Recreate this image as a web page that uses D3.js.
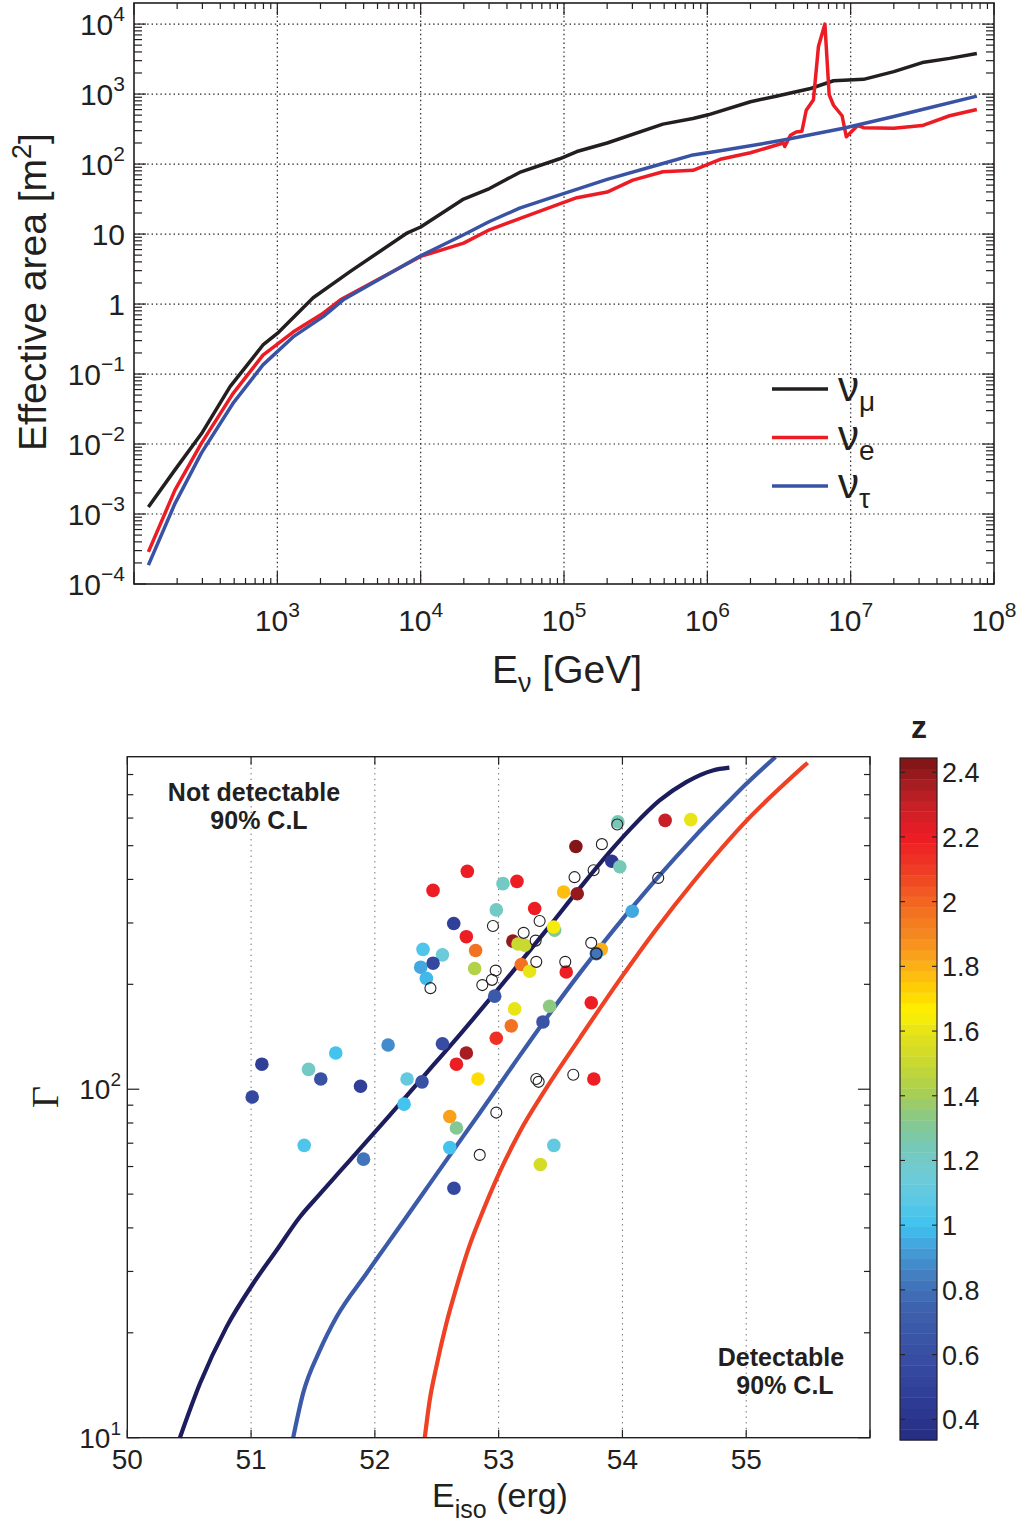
<!DOCTYPE html>
<html><head><meta charset="utf-8">
<script src="https://cdn.jsdelivr.net/npm/d3@7"></script>
<style>
body{margin:0;background:#fff}
svg{display:block}
text{font-family:"Liberation Sans",Arial,Helvetica,sans-serif;fill:#231f20}
</style>
</head><body>
<svg id="c" width="1023" height="1526"></svg>
<script>
// ================= DATA: top panel (effective area) =================
const numuEnergy = [126,193,296,468,794,1000,1778,3214,7943,1e4,1.995e4,3.02e4,4.9e4,9.33e4,1.23e5,2.0e5,4.9e5,7.94e5,1e6,2e6,3.02e6,5.25e6,7.59e6,1.23e7,2e7,3.16e7,4.9e7,7.59e7];
const numuArea   = [1.26e-3,4.27e-3,0.0141,0.066,0.26,0.38,1.23,2.9,10.2,12.6,31.6,44.7,75.9,119,151,200,372,447,501,776,933,1202,1549,1622,2089,2818,3236,3802];

const nueEnergy = [126,193,295,490,794,1288,2089,2754,1e4,1.995e4,3.02e4,4.9e4,9.33e4,1.23e5,2.0e5,3.02e5,4.9e5,7.94e5,1.23e6,2.0e6,3.39e6,3.47e6,3.80e6,4.17e6,4.57e6,4.90e6,5.50e6,5.96e6,6.61e6,7.08e6,7.59e6,8.71e6,9.33e6,1.12e7,1.23e7,2.0e7,3.16e7,4.9e7,7.59e7];
const nueArea   = [2.88e-4,2.19e-3,0.0102,0.0525,0.186,0.398,0.741,1.15,4.79,7.41,11.5,16.6,26.9,33.1,39.8,58.9,77.6,81.3,117,145,200,178,257,288,295,589,832,4786,10000,977,692,490,245,355,331,324,355,490,603];

const nutauEnergy = [126,193,295,490,794,1288,2089,2884,1e4,1.995e4,3.02e4,4.9e4,9.33e4,2.0e5,4.9e5,7.94e5,1.23e6,2.0e6,3.55e6,8.91e6,2.0e7,3.16e7,7.59e7];
const nutauArea   = [1.86e-4,1.41e-3,7.41e-3,0.038,0.135,0.339,0.661,1.15,4.9,9.77,15.1,23.4,36.3,60.3,102,135,155,182,224,324,479,603,933];

const topXTicks = [1e2,1e3,1e4,1e5,1e6,1e7,1e8];
const topXTickExp = ["","3","4","5","6","7","8"];
const topYTicks = [1e-4,1e-3,1e-2,1e-1,1,10,1e2,1e3,1e4];
const topYTickBase = ["10","10","10","10","1","10","10","10","10"];
const topYTickExp  = ["\u22124","\u22123","\u22122","\u22121","","","2","3","4"];
const legendNames = ["\u03bd","\u03bd","\u03bd"];
const legendSubs  = ["\u03bc","e","\u03c4"];

// ================= DATA: bottom panel (detectability) =================
const curve1Eiso  = [50.425,50.587,50.802,51.017,51.206,51.394,51.555,51.716,51.878,52.066,52.255,52.470,52.631,52.954,53.115,53.385,53.654,53.922,54.084,54.300,54.515,54.730,54.864];
const curve1Gamma = [10,14.3,20.8,27.7,34.5,43.0,50.0,58.0,67.3,80.1,95.5,117,136,186,218,286,377,491,568,674,761,822,837];
const curve2Eiso  = [51.34,51.42,51.555,51.690,51.932,52.094,52.255,52.443,52.605,52.847,53.115,53.358,53.654,53.789,54.084,54.300,54.569,54.838,54.999,55.236];
const curve2Gamma = [10,13.4,17.8,22.2,29.6,35.7,43.0,53.5,64.6,85.5,117,155,215,248,334,411,524,658,751,898];
const curve3Eiso  = [52.403,52.443,52.497,52.578,52.659,52.766,52.847,53.008,53.169,53.385,53.654,53.977,54.273,54.569,54.999,55.496];
const curve3Gamma = [10,12.8,16.0,21.3,27.0,35.7,42.4,57.8,75.3,100.7,140,206,288,392,588,865];

const grbEiso  = [52.747,52.470,53.035,52.981,52.637,52.739,52.814,52.389,52.546,52.470,52.370,52.416,52.806,52.968,52.546,52.739,52.659,52.833,52.981,52.107,51.684,51.464,51.087,51.563,51.884,51.009,52.260,52.381,52.236,51.429,51.908,52.605,52.659,52.605,52.639,53.129,53.102,53.963,54.345,54.552,53.624,53.914,53.979,53.148,53.291,53.525,53.635,53.452,53.444,53.115,53.156,53.210,53.829,53.789,53.183,53.250,53.546,53.412,53.748,53.358,54.079,53.769,53.446,53.337];
const grbGamma = [422,372,389,327,299,274,250,252,243,230,224,208,222,185,135,127,118,107,140,134,127,114,118,107,102,95,107,105,90.6,69,63,83.5,77.4,68,52,170,152,585,591,594,497,451,435,395,330,368,364,286,292,266,261,259,252,245,228,218,217,173,177,156,324,107,69,60.8];
const grbZ     = [2.2,2.2,1.2,1.22,0.5,2.2,1.95,1.05,1.15,0.55,0.95,0.97,1.45,0.68,0.58,2.35,2.2,1.7,2.12,0.87,1.02,1.2,0.5,0.62,0.5,0.55,1.12,0.6,1.02,1.05,0.82,1.85,1.32,1.02,0.55,1.62,1.95,1.25,2.28,1.6,2.42,0.42,1.25,2.2,2.2,1.76,2.4,1.3,1.65,2.38,1.5,1.52,1.8,0.8,1.95,1.62,2.2,1.35,2.2,0.65,0.95,2.2,1.1,1.55];
const noZEiso  = [52.954,52.449,52.868,52.946,52.976,52.981,52.847,53.958,53.834,53.767,53.613,53.331,53.202,53.299,53.748,53.789,53.304,53.538,54.289,53.304,53.323,53.603];
const noZGamma = [294,195,199,206,219,85.7,64.8,575,505,425,406,304,281,267,263,245,232,232,404,107,105,110];

const botXTicks = [50,51,52,53,54,55,56];
const botXTickLabels = ["50","51","52","53","54","55",""];
const cbTicks = [0.4,0.6,0.8,1,1.2,1.4,1.6,1.8,2,2.2,2.4];
const cbTickLabels = ["0.4","0.6","0.8","1","1.2","1.4","1.6","1.8","2","2.2","2.4"];
const zRange = [0.336, 2.444];

// colormap stops (style)
const cmapZ = [0.34,0.45,0.55,0.65,0.75,0.85,0.93,1.00,1.08,1.15,1.23,1.32,1.40,1.50,1.59,1.66,1.72,1.78,1.88,1.99,2.10,2.20,2.28,2.36,2.44];
const cmapC = ["#262d83","#2e3b94","#3548a0","#3a55a6","#3d63ae","#4380c2","#44a0da","#3ec3f0","#5cc8e4","#6dcbd8","#75c9bd","#86c88f","#a5cd58","#c8d930","#e4e11b","#fff200","#ffd400","#fdb913","#f68e1f","#f26a22","#ef3b24","#ed1c24","#cf2027","#a81e22","#7f1416"];

// ================= DRAW =================
const svg = d3.select("#c");
const ink = "#231f20";

function supText(g, x, y, base, exp, size, anchor, expSize, rise) {
  const t = g.append("text").attr("x", x).attr("y", y).attr("text-anchor", anchor).attr("font-size", size);
  t.append("tspan").text(base);
  if (exp) t.append("tspan").attr("dy", -rise).attr("font-size", expSize).text(exp);
  return t;
}

// ---------- top panel ----------
const tx = d3.scaleLog().domain([1e2, 1e8]).range([134, 994]);
const ty = d3.scaleLog().domain([1e-4, 2e4]).range([584, 3]);
const topG = svg.append("g");

const gridStyle = s => s.attr("stroke", ink).attr("stroke-width", 1.2).attr("stroke-dasharray", "1.4,3");
topG.selectAll(".vg").data(topXTicks.slice(1, -1)).join("line")
  .attr("x1", d => tx(d)).attr("x2", d => tx(d)).attr("y1", ty.range()[1]).attr("y2", ty.range()[0]).call(gridStyle);
topG.selectAll(".hg").data(topYTicks.slice(1)).join("line")
  .attr("y1", d => ty(d)).attr("y2", d => ty(d)).attr("x1", tx.range()[0]).attr("x2", tx.range()[1]).call(gridStyle);

const minorX = [];
for (let e = 2; e < 8; e++) for (let k = 2; k <= 9; k++) minorX.push(k * Math.pow(10, e));
const minorY = [];
for (let e = -4; e < 5; e++) for (let k = 2; k <= 9; k++) { const v = k * Math.pow(10, e); if (v < 2e4) minorY.push(v); }
const tk = topG.append("g").attr("stroke", ink).attr("stroke-width", 1.2);
const [xl, xr] = tx.range(); const [yb, ytop] = ty.range();
topXTicks.forEach(d => { tk.append("line").attr("x1", tx(d)).attr("x2", tx(d)).attr("y1", yb).attr("y2", yb - 12);
                         tk.append("line").attr("x1", tx(d)).attr("x2", tx(d)).attr("y1", ytop).attr("y2", ytop + 12); });
minorX.forEach(d => { tk.append("line").attr("x1", tx(d)).attr("x2", tx(d)).attr("y1", yb).attr("y2", yb - 6);
                      tk.append("line").attr("x1", tx(d)).attr("x2", tx(d)).attr("y1", ytop).attr("y2", ytop + 6); });
topYTicks.forEach(d => { tk.append("line").attr("y1", ty(d)).attr("y2", ty(d)).attr("x1", xl).attr("x2", xl + 12);
                         tk.append("line").attr("y1", ty(d)).attr("y2", ty(d)).attr("x1", xr).attr("x2", xr - 12); });
minorY.forEach(d => { tk.append("line").attr("y1", ty(d)).attr("y2", ty(d)).attr("x1", xl).attr("x2", xl + 8);
                      tk.append("line").attr("y1", ty(d)).attr("y2", ty(d)).attr("x1", xr).attr("x2", xr - 8); });

const tline = d3.line().x(d => tx(d[0])).y(d => ty(d[1]));
const series = [
  {E: numuEnergy, A: numuArea, c: "#231f20"},
  {E: nueEnergy, A: nueArea, c: "#ed1c24"},
  {E: nutauEnergy, A: nutauArea, c: "#3953a4"}
];
series.forEach(s => {
  topG.append("path").attr("d", tline(d3.zip(s.E, s.A))).attr("fill", "none")
    .attr("stroke", s.c).attr("stroke-width", 3.5).attr("stroke-linejoin", "round");
});

topG.append("rect").attr("x", xl).attr("y", ytop).attr("width", xr - xl).attr("height", yb - ytop)
  .attr("fill", "none").attr("stroke", ink).attr("stroke-width", 1.6);

topXTicks.forEach((d, i) => { if (topXTickExp[i]) supText(topG, tx(d), 631, "10", topXTickExp[i], 30, "middle", 21, 14); });
topYTicks.forEach((d, i) => supText(topG, 125, ty(d) + 10.5, topYTickBase[i], topYTickExp[i], 30, "end", 21, 14));

const ytitle1 = topG.append("text").attr("transform", "translate(46,292) rotate(-90)").attr("text-anchor", "middle").attr("font-size", 39);
ytitle1.append("tspan").text("Effective area [m");
ytitle1.append("tspan").attr("dy", -15).attr("font-size", 27).text("2");
ytitle1.append("tspan").attr("dy", 15).text("]");
const xtitle1 = topG.append("text").attr("x", 567).attr("y", 683).attr("text-anchor", "middle").attr("font-size", 39);
xtitle1.append("tspan").text("E");
xtitle1.append("tspan").attr("dy", 9).attr("font-size", 27).text("\u03bd");
xtitle1.append("tspan").attr("dy", -9).text(" [GeV]");

const legY = [389, 437.5, 486];
series.forEach((s, i) => {
  topG.append("line").attr("x1", 772).attr("x2", 828).attr("y1", legY[i]).attr("y2", legY[i])
    .attr("stroke", s.c).attr("stroke-width", 3.5);
  const t = topG.append("text").attr("x", 838).attr("y", legY[i] + 12).attr("font-size", 42);
  t.append("tspan").text(legendNames[i]);
  t.append("tspan").attr("dy", 10).attr("font-size", 28).text(legendSubs[i]);
});

// ---------- bottom panel ----------
const bx = d3.scaleLinear().domain([50, 56]).range([127.3, 870]);
const by = d3.scaleLog().domain([10, 900]).range([1437.7, 756.7]);
const bot = svg.append("g");
const [bl, br] = bx.range(); const [bb, bt] = by.range();

bot.selectAll(".bvg").data(botXTicks.slice(1, -1)).join("line")
  .attr("x1", d => bx(d)).attr("x2", d => bx(d)).attr("y1", bt).attr("y2", bb)
  .attr("stroke", "#58595b").attr("stroke-width", 1).attr("stroke-dasharray", "1.2,4.3");

const btk = bot.append("g").attr("stroke", ink).attr("stroke-width", 1.2);
botXTicks.forEach(d => { btk.append("line").attr("x1", bx(d)).attr("x2", bx(d)).attr("y1", bb).attr("y2", bb - 8);
                         btk.append("line").attr("x1", bx(d)).attr("x2", bx(d)).attr("y1", bt).attr("y2", bt + 8); });
const bMajorY = [10, 100];
const bMinorY = [20,30,40,50,60,70,80,90,200,300,400,500,600,700,800];
bMajorY.forEach(d => { btk.append("line").attr("y1", by(d)).attr("y2", by(d)).attr("x1", bl).attr("x2", bl + 12);
                       btk.append("line").attr("y1", by(d)).attr("y2", by(d)).attr("x1", br).attr("x2", br - 12); });
bMinorY.forEach(d => { btk.append("line").attr("y1", by(d)).attr("y2", by(d)).attr("x1", bl).attr("x2", bl + 6);
                       btk.append("line").attr("y1", by(d)).attr("y2", by(d)).attr("x1", br).attr("x2", br - 6); });

const bline = d3.line().x(d => bx(d[0])).y(d => by(d[1])).curve(d3.curveMonotoneX);
[[curve1Eiso, curve1Gamma, "#1d1d5e"], [curve2Eiso, curve2Gamma, "#3b5ba9"], [curve3Eiso, curve3Gamma, "#ef4123"]]
  .forEach(([e, g, c]) => bot.append("path").attr("d", bline(d3.zip(e, g))).attr("fill", "none")
    .attr("stroke", c).attr("stroke-width", 4.2));

const cInterp = d3.scaleLinear().domain(cmapZ).range(cmapC).interpolate(d3.interpolateRgb).clamp(true);
const nLev = 64;
const levelColor = z => {
  let k = Math.floor((z - zRange[0]) / (zRange[1] - zRange[0]) * nLev);
  k = Math.max(0, Math.min(nLev - 1, k));
  return cInterp(zRange[0] + (k + 0.5) * (zRange[1] - zRange[0]) / nLev);
};

bot.selectAll(".pt").data(d3.zip(grbEiso, grbGamma, grbZ)).join("circle")
  .attr("cx", d => bx(d[0])).attr("cy", d => by(d[1])).attr("r", 6.8).attr("fill", d => levelColor(d[2]));
bot.selectAll(".op").data(d3.zip(noZEiso, noZGamma)).join("circle")
  .attr("cx", d => bx(d[0])).attr("cy", d => by(d[1])).attr("r", 5.5)
  .attr("fill", "none").attr("stroke", ink).attr("stroke-width", 1.1);

bot.append("rect").attr("x", bl).attr("y", bt).attr("width", br - bl).attr("height", bb - bt)
  .attr("fill", "none").attr("stroke", ink).attr("stroke-width", 1.4);

botXTicks.forEach((d, i) => bot.append("text").attr("x", bx(d)).attr("y", 1469).attr("text-anchor", "middle")
  .attr("font-size", 28).text(botXTickLabels[i]));
supText(bot, 121, by(100) + 10, "10", "2", 28, "end", 19, 13);
supText(bot, 121, by(10) + 10, "10", "1", 28, "end", 19, 13);

bot.append("text").attr("transform", "translate(58,1097) rotate(-90)").attr("text-anchor", "middle")
  .attr("font-size", 38).style("font-family", "'Liberation Serif','Times New Roman',serif").text("\u0393");
const xtitle2 = bot.append("text").attr("x", 500).attr("y", 1507).attr("text-anchor", "middle").attr("font-size", 34);
xtitle2.append("tspan").text("E");
xtitle2.append("tspan").attr("dy", 11).attr("font-size", 25).text("iso");
xtitle2.append("tspan").attr("dy", -11).text(" (erg)");

const ann = (x, y, s) => bot.append("text").attr("x", x).attr("y", y).attr("text-anchor", "middle")
  .attr("font-size", 25).attr("font-weight", "bold").text(s);
ann(254, 801, "Not detectable");
ann(259, 829, "90% C.L");
ann(781, 1366, "Detectable");
ann(785, 1394, "90% C.L");

const cb = d3.scaleLinear().domain(zRange).range([1440, 758]);
const cbg = svg.append("g");
const levels = d3.range(nLev);
cbg.selectAll("rect").data(levels).join("rect")
  .attr("x", 900).attr("width", 37)
  .attr("y", k => cb(zRange[0] + (k + 1) * (zRange[1] - zRange[0]) / nLev))
  .attr("height", (cb.range()[0] - cb.range()[1]) / nLev + 0.4)
  .attr("fill", k => levelColor(zRange[0] + (k + 0.5) * (zRange[1] - zRange[0]) / nLev));
cbg.append("rect").attr("x", 900).attr("y", 758).attr("width", 37).attr("height", 682)
  .attr("fill", "none").attr("stroke", ink).attr("stroke-width", 1.2);
cbTicks.forEach((d, i) => {
  cbg.append("line").attr("x1", 900).attr("x2", 905).attr("y1", cb(d)).attr("y2", cb(d)).attr("stroke", ink).attr("stroke-width", 1.1);
  cbg.append("line").attr("x1", 937).attr("x2", 932).attr("y1", cb(d)).attr("y2", cb(d)).attr("stroke", ink).attr("stroke-width", 1.1);
  cbg.append("text").attr("x", 942).attr("y", cb(d) + 10).attr("font-size", 27).text(cbTickLabels[i]);
});
cbg.append("text").attr("x", 919).attr("y", 738).attr("text-anchor", "middle").attr("font-size", 32)
  .attr("font-weight", "bold").text("z");
</script>
</body></html>
